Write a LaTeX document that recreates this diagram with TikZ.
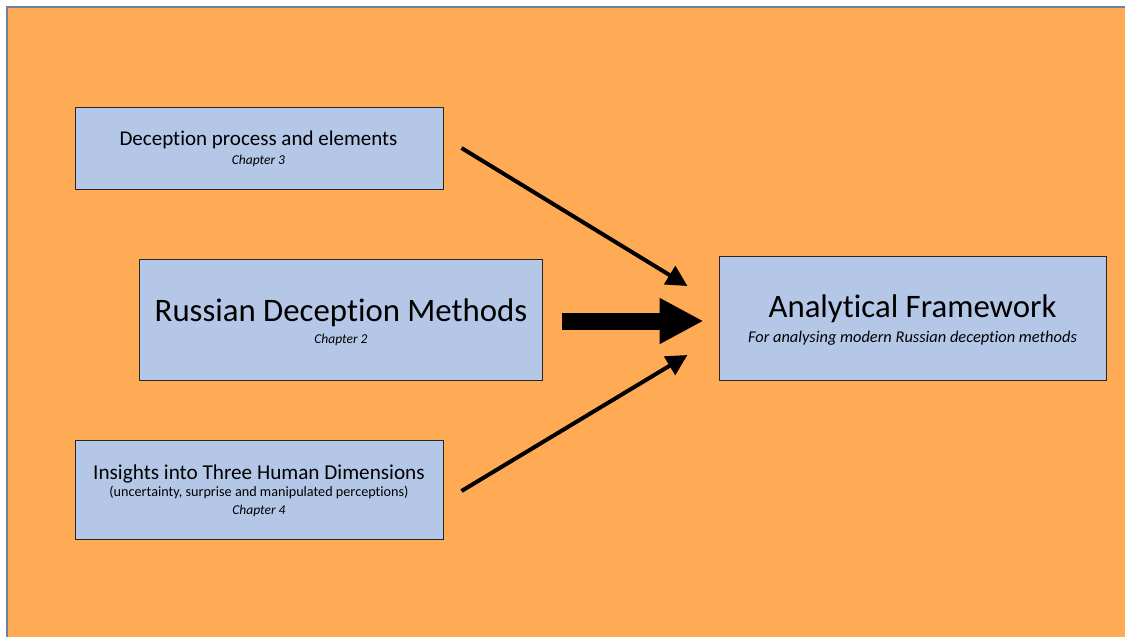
\documentclass[tikz,border=0pt]{standalone}
\usepackage{fontspec}
\setmainfont{Carlito}[Ligatures=NoCommon]
\usetikzlibrary{arrows.meta}

\definecolor{bgorange}{RGB}{255,170,84}
\definecolor{boxblue}{RGB}{180,199,231}
\definecolor{rimblue}{RGB}{110,128,170}

\tikzset{
  chapbox/.style={draw=black!85,fill=boxblue,line width=1pt,inner sep=0pt},
  txt/.style={anchor=base,inner sep=0pt},
  feed/.style={line width=4pt,-{Triangle[length=21pt,width=21pt]}},
}

\begin{document}
\begin{tikzpicture}[x=1pt,y=-1pt]

			\useasboundingbox (0,0) rectangle (1125,637);
			\fill[white] (0,0) rectangle (1125,637);
			\fill[bgorange] (7,7) rectangle (1125,637);
			\draw[rimblue,line width=1.5pt] (7,637) -- (7,7) -- (1125,7);

			% boxes
			\node[chapbox,minimum width=368pt,minimum height=82pt] (dpe) at (259,148) {};
			\node[chapbox,minimum width=403pt,minimum height=121pt] (rdm) at (340.5,319.5) {};
			\node[chapbox,minimum width=368pt,minimum height=99pt] (ithd) at (259,489.5) {};
			\node[chapbox,minimum width=387pt,minimum height=124pt] (af) at (912.5,318) {};

			% texts
			\node[txt,font=\fontsize{21}{25}\selectfont] (dpetitle) at (258.5,145.7) {Deception process and elements};
			\node[txt,font=\fontsize{13.5}{16}\selectfont\itshape] (dpechap) at (258.5,164.3) {Chapter 3};
			\node[txt,font=\fontsize{32.8}{38}\selectfont] (rdmtitle) at (341,321.7) {Russian Deception Methods};
			\node[txt,font=\fontsize{13.5}{16}\selectfont\itshape] (rdmchap) at (341,343.3) {Chapter 2};
			\node[txt,font=\fontsize{21.2}{25}\selectfont] (ithdtitle) at (259,479.3) {Insights into Three Human Dimensions};
			\node[txt,font=\fontsize{14.2}{17}\selectfont] (ithdsub) at (259,496.7) {(uncertainty, surprise and manipulated perceptions)};
			\node[txt,font=\fontsize{13.5}{16}\selectfont\itshape] (ithdchap) at (259,514) {Chapter 4};
			\node[txt,font=\fontsize{32.8}{38}\selectfont] (aftitle) at (912.5,317.7) {Analytical Framework};
			\node[txt,font=\fontsize{16.4}{19}\selectfont\itshape] (afsub) at (912.5,342.7) {For analysing modern Russian deception methods};

			% arrows
			\coordinate (dpeout) at ([xshift=18pt]dpe.east);
			\coordinate (rdmout) at ([xshift=19pt,yshift=-1.5pt]rdm.east);
			\coordinate (ithdout) at ([xshift=18pt,yshift=-1.5pt]ithd.east);
			\coordinate (afin1) at ([xshift=-31pt,yshift=32pt]af.west);
			\coordinate (afin2) at ([xshift=-15pt,yshift=-3pt]af.west);
			\coordinate (afin3) at ([xshift=-31pt,yshift=-37pt]af.west);

			\draw[feed] (dpeout) -- (afin1);
			\draw[feed] (ithdout) -- (afin3);
			\draw[line width=17pt,-{Triangle[length=44pt,width=43pt]}] (rdmout) -- (afin2);

		\end{tikzpicture}
\end{document}
